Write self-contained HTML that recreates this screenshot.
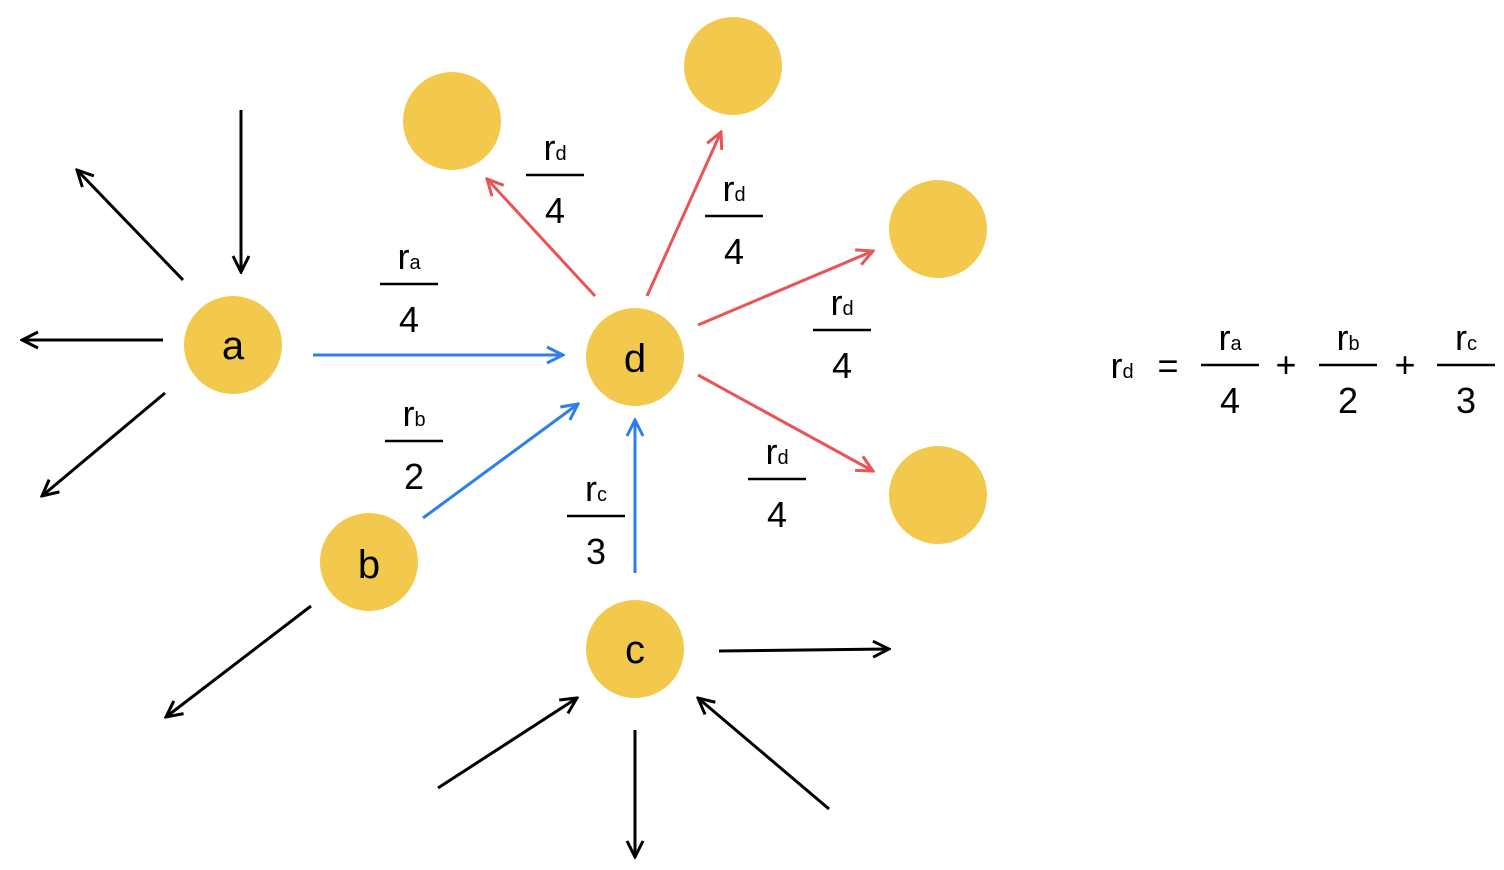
<!DOCTYPE html>
<html><head><style>html,body{margin:0;padding:0;background:#fff}svg{display:block}text{font-family:"Liberation Sans",sans-serif;fill:#000}</style></head>
<body>
<svg width="1504" height="870" viewBox="0 0 1504 870" xmlns="http://www.w3.org/2000/svg">
<defs>
<marker id="k" viewBox="0 0 20 20" refX="18" refY="10" markerWidth="20" markerHeight="20" markerUnits="userSpaceOnUse" orient="auto"><path d="M2,2 L18,10 L2,18" fill="none" stroke="#000" stroke-width="3"/></marker>
<marker id="bl" viewBox="0 0 20 20" refX="18" refY="10" markerWidth="20" markerHeight="20" markerUnits="userSpaceOnUse" orient="auto"><path d="M2,2 L18,10 L2,18" fill="none" stroke="#2F7FE8" stroke-width="3"/></marker>
<marker id="rd" viewBox="0 0 20 20" refX="18" refY="10" markerWidth="20" markerHeight="20" markerUnits="userSpaceOnUse" orient="auto"><path d="M2,2 L18,10 L2,18" fill="none" stroke="#E85555" stroke-width="3"/></marker>
</defs>
<g fill="#F2C94C">
<circle cx="233" cy="345" r="49"/><circle cx="635" cy="357" r="49"/><circle cx="369" cy="562" r="49"/><circle cx="635" cy="649" r="49"/>
<circle cx="452" cy="121" r="49"/><circle cx="733" cy="66" r="49"/><circle cx="938" cy="229" r="49"/><circle cx="938" cy="495" r="49"/>
</g>
<g font-size="40" text-anchor="middle">
<text x="233" y="359">a</text><text x="635" y="372">d</text><text x="369" y="578">b</text><text x="635" y="663">c</text>
</g>
<g stroke="#000" stroke-width="3" fill="none" marker-end="url(#k)">
<line x1="241" y1="110" x2="241" y2="272"/>
<line x1="183" y1="280" x2="77" y2="170"/>
<line x1="163" y1="340" x2="22" y2="340"/>
<line x1="165" y1="393" x2="42" y2="496"/>
<line x1="311" y1="606" x2="166" y2="717"/>
<line x1="719" y1="651" x2="889" y2="649"/>
<line x1="438" y1="788" x2="577" y2="698"/>
<line x1="635" y1="730" x2="635" y2="857"/>
<line x1="829" y1="809" x2="698" y2="698"/>
</g>
<g stroke="#2F7FE8" stroke-width="3" fill="none" marker-end="url(#bl)">
<line x1="313" y1="355" x2="563" y2="355"/>
<line x1="423" y1="518" x2="578" y2="404"/>
<line x1="635" y1="573" x2="635" y2="420"/>
</g>
<g stroke="#E85555" stroke-width="3" fill="none" marker-end="url(#rd)">
<line x1="595" y1="296" x2="487" y2="179"/>
<line x1="647" y1="296" x2="721" y2="132"/>
<line x1="698" y1="325" x2="873" y2="251"/>
<line x1="698" y1="375" x2="873" y2="471"/>
</g>
<g stroke="#000" stroke-width="2.5">
<line x1="380" y1="284" x2="438" y2="284"/>
<line x1="385" y1="441" x2="443" y2="441"/>
<line x1="567" y1="516" x2="625" y2="516"/>
<line x1="526" y1="175" x2="584" y2="175"/>
<line x1="705" y1="216" x2="763" y2="216"/>
<line x1="813" y1="330" x2="871" y2="330"/>
<line x1="748" y1="479" x2="806" y2="479"/>
<line x1="1201" y1="365" x2="1259" y2="365"/>
<line x1="1319" y1="365" x2="1377" y2="365"/>
<line x1="1437" y1="365" x2="1495" y2="365"/>
</g>
<g font-size="36" text-anchor="middle">
<text x="409" y="269">r<tspan font-size="20">a</tspan></text><text x="409" y="332">4</text>
<text x="414" y="426">r<tspan font-size="20">b</tspan></text><text x="414" y="489">2</text>
<text x="596" y="501">r<tspan font-size="20">c</tspan></text><text x="596" y="564">3</text>
<text x="555" y="160">r<tspan font-size="20">d</tspan></text><text x="555" y="223">4</text>
<text x="734" y="201">r<tspan font-size="20">d</tspan></text><text x="734" y="264">4</text>
<text x="842" y="315">r<tspan font-size="20">d</tspan></text><text x="842" y="378">4</text>
<text x="777" y="464">r<tspan font-size="20">d</tspan></text><text x="777" y="527">4</text>
<text x="1122" y="378">r<tspan font-size="20">d</tspan></text>
<text x="1168" y="378">=</text>
<text x="1230" y="350">r<tspan font-size="20">a</tspan></text><text x="1230" y="413">4</text>
<text x="1286" y="377">+</text>
<text x="1348" y="350">r<tspan font-size="20">b</tspan></text><text x="1348" y="413">2</text>
<text x="1405" y="377">+</text>
<text x="1466" y="350">r<tspan font-size="20">c</tspan></text><text x="1466" y="413">3</text>
</g>
</svg>
</body></html>
